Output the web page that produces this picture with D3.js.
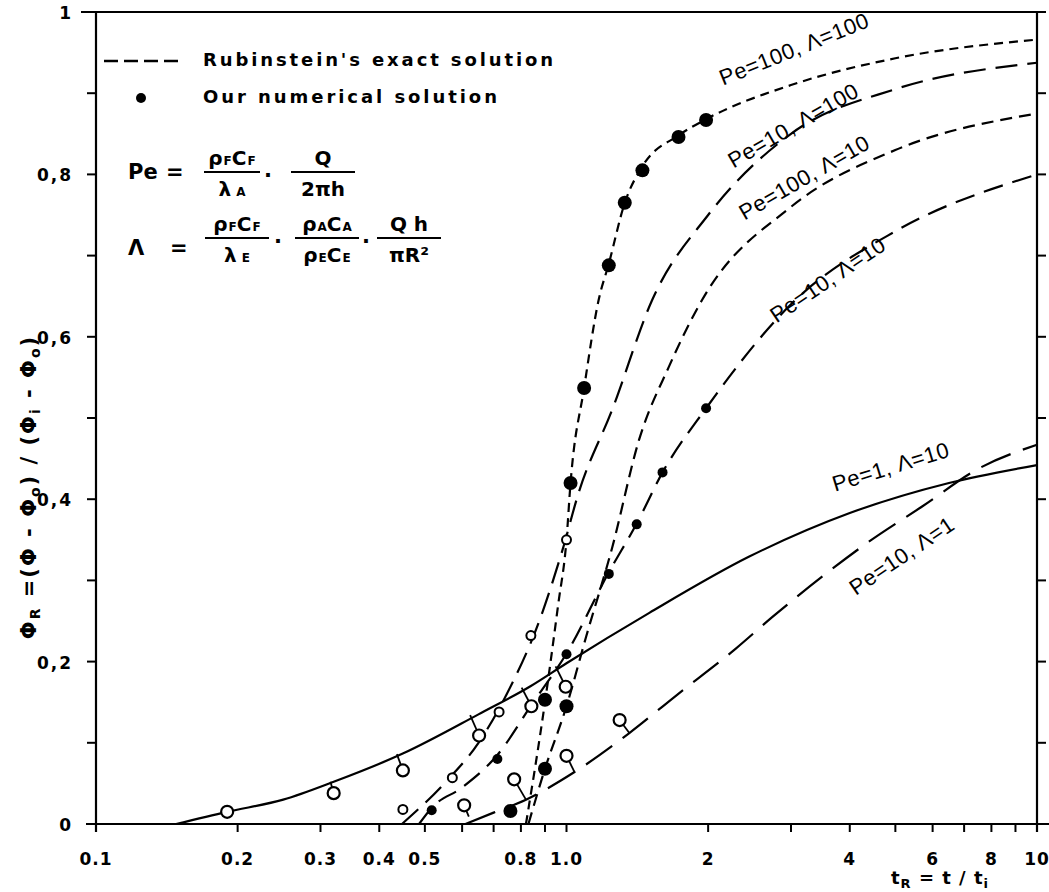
<!DOCTYPE html>
<html>
<head>
<meta charset="utf-8">
<script src="https://cdn.jsdelivr.net/npm/d3@7"></script>
<style>
body { margin: 0; background: #fff; }
text { fill: #000; }
</style>
</head>
<body>
<svg id="chart" width="1049" height="892"></svg>
<script>
// curves: [tR, phiR]
var pe100L100 = [[0.82, 0], [0.9, 0.15], [0.96, 0.27], [1.0, 0.35], [1.02, 0.42], [1.09, 0.537], [1.17, 0.645], [1.23, 0.69], [1.33, 0.765], [1.45, 0.81], [1.73, 0.848], [1.98, 0.868], [3, 0.91], [5, 0.943], [10, 0.966]];
var pe10L100 = [[0.447, 0], [0.55, 0.05], [0.65, 0.1], [0.748, 0.161], [0.874, 0.249], [0.98, 0.337], [1.06, 0.407], [1.25, 0.51], [1.52, 0.645], [2, 0.75], [3, 0.85], [5, 0.905], [10, 0.9375]];
var pe100L10 = [[0.83, 0], [0.9, 0.068], [1.0, 0.145], [1.1, 0.23], [1.25, 0.34], [1.426, 0.473], [1.65, 0.563], [1.94, 0.645], [3, 0.76], [5, 0.83], [10, 0.875]];
var pe10L10 = [[0.486, 0], [0.517, 0.02], [0.6, 0.045], [0.713, 0.085], [0.85, 0.15], [1.0, 0.21], [1.23, 0.31], [1.41, 0.37], [1.6, 0.433], [1.98, 0.512], [3, 0.64], [5, 0.73], [10, 0.80]];
var pe1L10 = [[0.148, 0], [0.19, 0.015], [0.25, 0.03], [0.32, 0.052], [0.45, 0.087], [0.65, 0.135], [0.84, 0.17], [1.0, 0.198], [1.5, 0.26], [2.44, 0.329], [4, 0.383], [6.5, 0.42], [10, 0.442]];
var pe10L1 = [[0.61, 0], [0.7, 0.014], [0.82, 0.03], [1.04, 0.064], [1.36, 0.112], [1.7, 0.157], [2.29, 0.216], [2.74, 0.255], [3.5, 0.305], [4.4, 0.348], [5.7, 0.391], [7.53, 0.438], [10, 0.467]];

// numerical points
var bigDots = [[0.76, 0.016], [0.9, 0.068], [0.9, 0.153], [1.0, 0.145], [1.02, 0.42], [1.09, 0.537], [1.23, 0.688], [1.33, 0.765], [1.45, 0.805], [1.73, 0.846], [1.98, 0.867]];
var smallDots = [[0.517, 0.017], [0.713, 0.08], [1.0, 0.209], [1.23, 0.308], [1.41, 0.369], [1.6, 0.433], [1.98, 0.512]];
// open circles: [tR, phiR, stem end tR, stem end phiR]
var openLarge = [[0.19, 0.015, 0.185, 0.018], [0.32, 0.038, 0.315, 0.052], [0.449, 0.066, 0.436, 0.086], [0.652, 0.109, 0.624, 0.134], [0.842, 0.145, 0.803, 0.168], [0.996, 0.169, 0.948, 0.194], [0.606, 0.023, 0.62, 0.009], [0.774, 0.055, 0.82, 0.03], [1.0, 0.084, 1.04, 0.064], [1.297, 0.128, 1.36, 0.112]];
var openSmall = [[0.449, 0.018], [0.572, 0.057], [0.719, 0.138], [0.84, 0.232], [1.0, 0.35]];

var xTickValues = [0.1, 0.2, 0.3, 0.4, 0.5, 0.6, 0.7, 0.8, 0.9, 1, 2, 3, 4, 5, 6, 7, 8, 9, 10];
var xTickLabels = [["0.1", 0.1], ["0.2", 0.2], ["0.3", 0.3], ["0.4", 0.4], ["0.5", 0.5], ["0.8", 0.8], ["1.0", 1], ["2", 2], ["4", 4], ["6", 6], ["8", 8], ["10", 10]];
var yTickValues = [0, 0.1, 0.2, 0.3, 0.4, 0.5, 0.6, 0.7, 0.8, 0.9, 1];
var yTickLabels = [["0", 0], ["0,2", 0.2], ["0,4", 0.4], ["0,6", 0.6], ["0,8", 0.8], ["1", 1]];

var svg = d3.select("#chart");
svg.append("rect").attr("width", 1049).attr("height", 892).attr("fill", "#fff");

var x = d3.scaleLog().domain([0.1, 10]).range([96, 1037]);
var y = d3.scaleLinear().domain([0, 1]).range([824, 12]);

var ink = "#000";
var fontBold = "'DejaVu Sans', 'Liberation Sans', sans-serif";

// frame
svg.append("line").attr("x1", 81).attr("x2", x(10)).attr("y1", y(1)).attr("y2", y(1)).attr("stroke", ink).attr("stroke-width", 2);
svg.append("line").attr("x1", x(0.1)).attr("x2", x(0.1)).attr("y1", y(1)).attr("y2", 832).attr("stroke", ink).attr("stroke-width", 2.2);
svg.append("line").attr("x1", x(10)).attr("x2", x(10)).attr("y1", y(1)).attr("y2", 832).attr("stroke", ink).attr("stroke-width", 2.2);
svg.append("line").attr("x1", 86).attr("x2", 1049).attr("y1", y(0)).attr("y2", y(0)).attr("stroke", ink).attr("stroke-width", 2.2);

// ticks
svg.selectAll(".xt").data(xTickValues).enter().append("line")
    .attr("x1", function (d) { return x(d); })
    .attr("x2", function (d) { return x(d); })
    .attr("y1", y(0)).attr("y2", y(0) + 8)
    .attr("stroke", ink).attr("stroke-width", 2);

svg.selectAll(".ytl").data(yTickValues).enter().append("line")
    .attr("x1", x(0.1) - 9).attr("x2", x(0.1))
    .attr("y1", function (d) { return y(d); })
    .attr("y2", function (d) { return y(d); })
    .attr("stroke", ink).attr("stroke-width", 2);

svg.selectAll(".ytr").data(yTickValues).enter().append("line")
    .attr("x1", x(10)).attr("x2", x(10) + 9)
    .attr("y1", function (d) { return y(d); })
    .attr("y2", function (d) { return y(d); })
    .attr("stroke", ink).attr("stroke-width", 2);

svg.selectAll(".xl").data(xTickLabels).enter().append("text")
    .attr("x", function (d) { return x(d[1]); })
    .attr("y", 865)
    .attr("text-anchor", "middle")
    .attr("font-family", fontBold).attr("font-weight", "bold").attr("font-size", 17)
    .attr("letter-spacing", 1)
    .text(function (d) { return d[0]; });

svg.selectAll(".yl").data(yTickLabels).enter().append("text")
    .attr("x", 73)
    .attr("y", function (d) { return y(d[1]) + 7; })
    .attr("text-anchor", "end")
    .attr("font-family", fontBold).attr("font-weight", "bold").attr("font-size", 17)
    .attr("letter-spacing", 2)
    .text(function (d) { return d[0]; });

// axis titles
var xt = svg.append("text").attr("x", 940).attr("y", 884).attr("text-anchor", "middle")
    .attr("font-family", fontBold).attr("font-weight", "bold").attr("font-size", 18).attr("letter-spacing", 1);
xt.append("tspan").text("t");
xt.append("tspan").attr("font-size", 13).attr("dy", 4).text("R");
xt.append("tspan").attr("dy", -4).text(" =  t / t");
xt.append("tspan").attr("font-size", 13).attr("dy", 4).text("i");

var yt = svg.append("text").attr("transform", "translate(36,487) rotate(-90)").attr("text-anchor", "middle")
    .attr("font-family", fontBold).attr("font-weight", "bold").attr("font-size", 21).attr("letter-spacing", 2);
yt.append("tspan").text("Φ");
yt.append("tspan").attr("font-size", 14).attr("dy", 4).text("R");
yt.append("tspan").attr("dy", -4).text(" =(Φ - Φ");
yt.append("tspan").attr("font-size", 14).attr("dy", 4).text("o");
yt.append("tspan").attr("dy", -4).text(") / (Φ");
yt.append("tspan").attr("font-size", 14).attr("dy", 4).text("i");
yt.append("tspan").attr("dy", -4).text(" - Φ");
yt.append("tspan").attr("font-size", 14).attr("dy", 4).text("o");
yt.append("tspan").attr("dy", -4).text(")");

// curves
var line = d3.line()
    .x(function (d) { return x(d[0]); })
    .y(function (d) { return y(d[1]); })
    .curve(d3.curveMonotoneX);

var curves = [
    { data: pe100L100, dash: "9,6" },
    { data: pe10L100, dash: "22,10" },
    { data: pe100L10, dash: "12,7" },
    { data: pe10L10, dash: "20,10" },
    { data: pe1L10, dash: null },
    { data: pe10L1, dash: "32,13" }
];

svg.selectAll(".curve").data(curves).enter().append("path")
    .attr("d", function (d) { return line(d.data); })
    .attr("fill", "none").attr("stroke", ink).attr("stroke-width", 2.2)
    .attr("stroke-dasharray", function (d) { return d.dash; });

// stems from open circles to curves
svg.selectAll(".stem").data(openLarge).enter().append("line")
    .attr("x1", function (d) { return x(d[0]); })
    .attr("y1", function (d) { return y(d[1]); })
    .attr("x2", function (d) { return x(d[2]); })
    .attr("y2", function (d) { return y(d[3]); })
    .attr("stroke", ink).attr("stroke-width", 1.8);

svg.selectAll(".open").data(openLarge).enter().append("circle")
    .attr("cx", function (d) { return x(d[0]); })
    .attr("cy", function (d) { return y(d[1]); })
    .attr("r", 6).attr("fill", "#fff").attr("stroke", ink).attr("stroke-width", 2.2);

svg.selectAll(".opens").data(openSmall).enter().append("circle")
    .attr("cx", function (d) { return x(d[0]); })
    .attr("cy", function (d) { return y(d[1]); })
    .attr("r", 4.5).attr("fill", "#fff").attr("stroke", ink).attr("stroke-width", 2);

svg.selectAll(".big").data(bigDots).enter().append("circle")
    .attr("cx", function (d) { return x(d[0]); })
    .attr("cy", function (d) { return y(d[1]); })
    .attr("r", 7).attr("fill", ink);

svg.selectAll(".small").data(smallDots).enter().append("circle")
    .attr("cx", function (d) { return x(d[0]); })
    .attr("cy", function (d) { return y(d[1]); })
    .attr("r", 5).attr("fill", ink);

// curve labels
var curveLabels = [
    { t: "Pe=100, Λ=100", x: 797, y: 56, a: -22 },
    { t: "Pe=10, Λ=100", x: 797, y: 132, a: -30 },
    { t: "Pe=100, Λ=10", x: 808, y: 184, a: -30 },
    { t: "Pe=10, Λ=10", x: 832, y: 286, a: -34 },
    { t: "Pe=1, Λ=10", x: 893, y: 474, a: -17 },
    { t: "Pe=10, Λ=1", x: 906, y: 562, a: -34 }
];
svg.selectAll(".cl").data(curveLabels).enter().append("text")
    .attr("transform", function (d) { return "translate(" + d.x + "," + d.y + ") rotate(" + d.a + ")"; })
    .attr("text-anchor", "middle")
    .attr("font-family", "'Liberation Sans', sans-serif").attr("font-size", 22)
    .attr("letter-spacing", 0.5)
    .text(function (d) { return d.t; });

// legend
svg.append("line").attr("x1", 104).attr("x2", 180).attr("y1", 61).attr("y2", 61)
    .attr("stroke", ink).attr("stroke-width", 2.4).attr("stroke-dasharray", "14,6");
svg.append("text").attr("x", 203).attr("y", 66).attr("font-family", fontBold).attr("font-weight", "bold")
    .attr("font-size", 18).attr("textLength", 350).attr("lengthAdjust", "spacing")
    .text("Rubinstein's exact solution");
svg.append("circle").attr("cx", 141).attr("cy", 98).attr("r", 5).attr("fill", ink);
svg.append("text").attr("x", 203).attr("y", 103).attr("font-family", fontBold).attr("font-weight", "bold")
    .attr("font-size", 18).attr("textLength", 294).attr("lengthAdjust", "spacing")
    .text("Our numerical solution");

// formulas
function frac(cx, lineY, halfW, num, den) {
    svg.append("line").attr("x1", cx - halfW).attr("x2", cx + halfW).attr("y1", lineY).attr("y2", lineY)
        .attr("stroke", ink).attr("stroke-width", 2);
    [[num, lineY - 7], [den, lineY + 24]].forEach(function (p) {
        var t = svg.append("text").attr("x", cx).attr("y", p[1]).attr("text-anchor", "middle")
            .attr("font-family", fontBold).attr("font-weight", "bold").attr("font-size", 20);
        p[0].forEach(function (s) {
            var ts = t.append("tspan").text(s[0]);
            if (s[1]) ts.attr("font-size", 12).attr("dx", 1);
        });
    });
}
function sym(txt, px, py, size) {
    svg.append("text").attr("x", px).attr("y", py).attr("font-family", fontBold).attr("font-weight", "bold")
        .attr("font-size", size || 21).text(txt);
}

sym("Pe", 128, 179);
sym("=", 166, 179);
frac(232, 172, 28, [["ρ"], ["F", 1], ["C"], ["F", 1]], [["λ"], [" A", 1]]);
sym("·", 264, 182);
frac(323, 172, 32, [["Q"]], [["2πh"]]);

sym("Λ", 128, 255);
sym("=", 170, 255);
frac(237, 238, 32, [["ρ"], ["F", 1], ["C"], ["F", 1]], [["λ"], [" E", 1]]);
sym("·", 274, 248);
frac(327, 238, 32, [["ρ"], ["A", 1], ["C"], ["A", 1]], [["ρ"], ["E", 1], ["C"], ["E", 1]]);
sym("·", 362, 248);
frac(409, 238, 32, [["Q  h"]], [["πR²"]]);
</script>
</body>
</html>
